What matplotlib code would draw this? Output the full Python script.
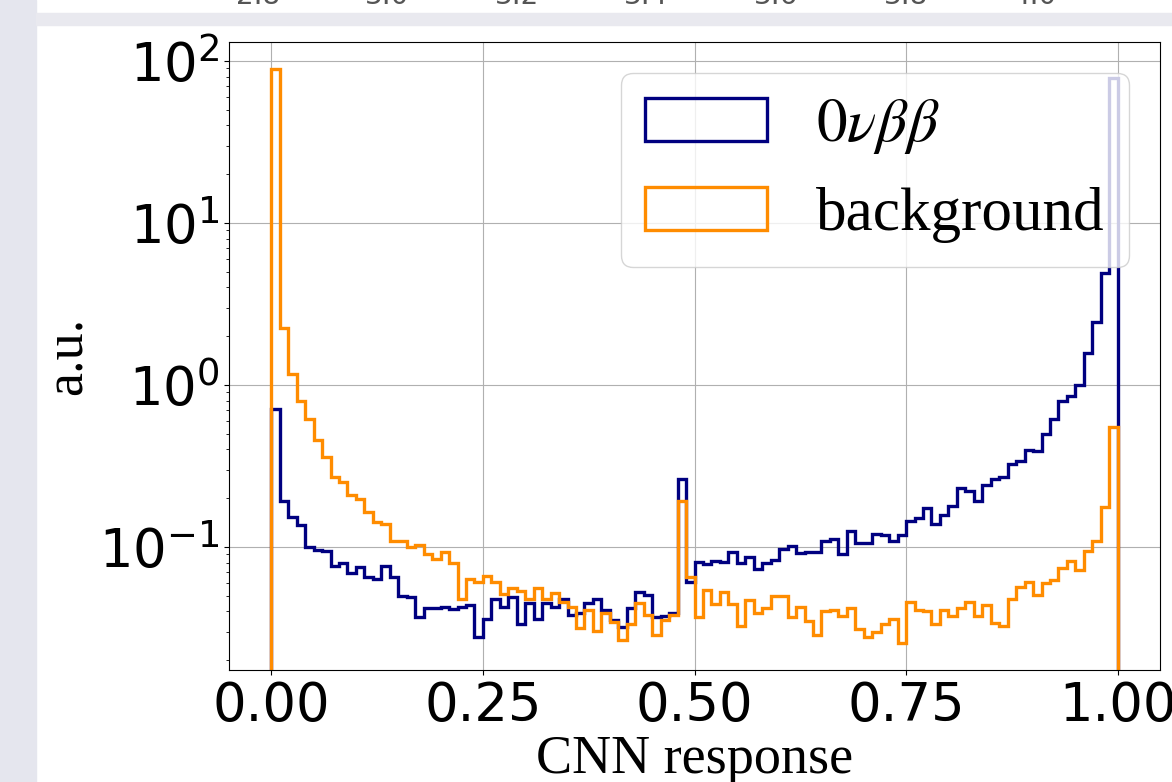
import matplotlib
matplotlib.use('Agg')
import matplotlib.pyplot as plt
import numpy as np

# bin contents (100 bins between 0 and 1)
senal = [0.708, 0.193, 0.154, 0.137, 0.1005, 0.0958, 0.095, 0.0763, 0.080, 0.0688,
         0.0748, 0.0656, 0.063, 0.0767, 0.065, 0.0499, 0.049, 0.0368, 0.0418, 0.0418,
         0.0427, 0.0416, 0.0427, 0.0438, 0.0277, 0.036, 0.048, 0.0423, 0.049, 0.0335,
         0.0453, 0.036, 0.0453, 0.0423, 0.048, 0.038, 0.0389, 0.0453, 0.0478, 0.0408,
         0.0354, 0.0319, 0.0418, 0.053, 0.0506, 0.0368, 0.0375, 0.0389, 0.262, 0.061,
         0.0811, 0.0785, 0.082, 0.081, 0.0927, 0.080, 0.087, 0.0728, 0.079, 0.0832,
         0.0968, 0.102, 0.0914, 0.0935, 0.0927, 0.108, 0.112, 0.0905, 0.1255, 0.105,
         0.105, 0.12, 0.119, 0.108, 0.119, 0.145, 0.150, 0.173, 0.139, 0.158,
         0.179, 0.230, 0.22, 0.193, 0.241, 0.262, 0.269, 0.325, 0.34, 0.397,
         0.39, 0.499, 0.62, 0.80, 0.86, 1.0, 1.58, 2.46, 4.93, 78.2]

fondo = [88.9, 2.24, 1.17, 0.80, 0.615, 0.46, 0.358, 0.272, 0.253, 0.21,
         0.198, 0.165, 0.143, 0.139, 0.109, 0.108, 0.0995, 0.103, 0.0905, 0.084,
         0.093, 0.079, 0.0478, 0.063, 0.061, 0.066, 0.0606, 0.051, 0.0556, 0.0535,
         0.048, 0.0556, 0.0478, 0.0518, 0.046, 0.0423, 0.0315, 0.0408, 0.0304, 0.0389,
         0.0343, 0.0267, 0.0335, 0.0453, 0.038, 0.0286, 0.0354, 0.038, 0.193, 0.0656,
         0.0368, 0.0543, 0.0445, 0.0524, 0.0445, 0.0325, 0.047, 0.0389, 0.0418, 0.0499,
         0.0499, 0.0368, 0.0427, 0.035, 0.0286, 0.0404, 0.041, 0.0375, 0.0418, 0.031,
         0.0277, 0.030, 0.0335, 0.036, 0.0254, 0.046, 0.0408, 0.040, 0.0333, 0.0408,
         0.0375, 0.0418, 0.046, 0.0375, 0.0438, 0.034, 0.0325, 0.048, 0.0569, 0.061,
         0.0506, 0.060, 0.0626, 0.0739, 0.082, 0.072, 0.0948, 0.108, 0.177, 0.548]

n_bins = 100
etiquetas_arriba = ['2.8', '3.0', '3.2', '3.4', '3.6', '3.8', '4.0']

bordes = np.linspace(0, 1, n_bins + 1)
centros = 0.5 * (bordes[:-1] + bordes[1:])

fig = plt.figure(figsize=(11.72, 7.82), dpi=100)

# screenshot leftovers: side strip, band and the cut tick labels of the chart above
fig.patches.append(plt.Rectangle((0, 0), 36 / 1172, 1, transform=fig.transFigure,
                                 color='#e5e6ee', zorder=-1))
fig.patches.append(plt.Rectangle((36 / 1172, 1 - 25 / 782), 1, 12 / 782,
                                 transform=fig.transFigure, color='#e9e9ef', zorder=-1))
for i, t in enumerate(etiquetas_arriba):
    fig.text((258 + 129.5 * i) / 1172, 1 - 3.5 / 782, t, fontsize=20,
             color='#555555', ha='center', va='baseline')

ax = fig.add_axes([229 / 1172, 112 / 782, 931 / 1172, 628 / 782])

ax.hist(centros, bins=bordes, weights=senal, histtype='step', color='navy',
        linewidth=2.4, label=r'$0\nu\beta\beta$')
ax.hist(centros, bins=bordes, weights=fondo, histtype='step', color='darkorange',
        linewidth=2.4, label='background')

ax.set_yscale('log')
ax.set_xlim(-0.05, 1.05)
ax.set_ylim(10 ** -1.76, 10 ** 2.117)
ax.set_xticks([0, 0.25, 0.5, 0.75, 1.0])
ax.grid(True, color='#b0b0b0', linewidth=0.8)
ax.set_axisbelow(True)
ax.tick_params(axis='both', labelsize=38)

ax.set_xlabel('CNN response', family='Liberation Serif', fontsize=39, labelpad=2)
ax.set_ylabel('a.u.', family='Liberation Serif', fontsize=39, labelpad=4)

ax.legend(loc='upper right',
          prop=dict(family='Liberation Serif', size=44, math_fontfamily='stix'))

fig.savefig('out.png', dpi=100)
